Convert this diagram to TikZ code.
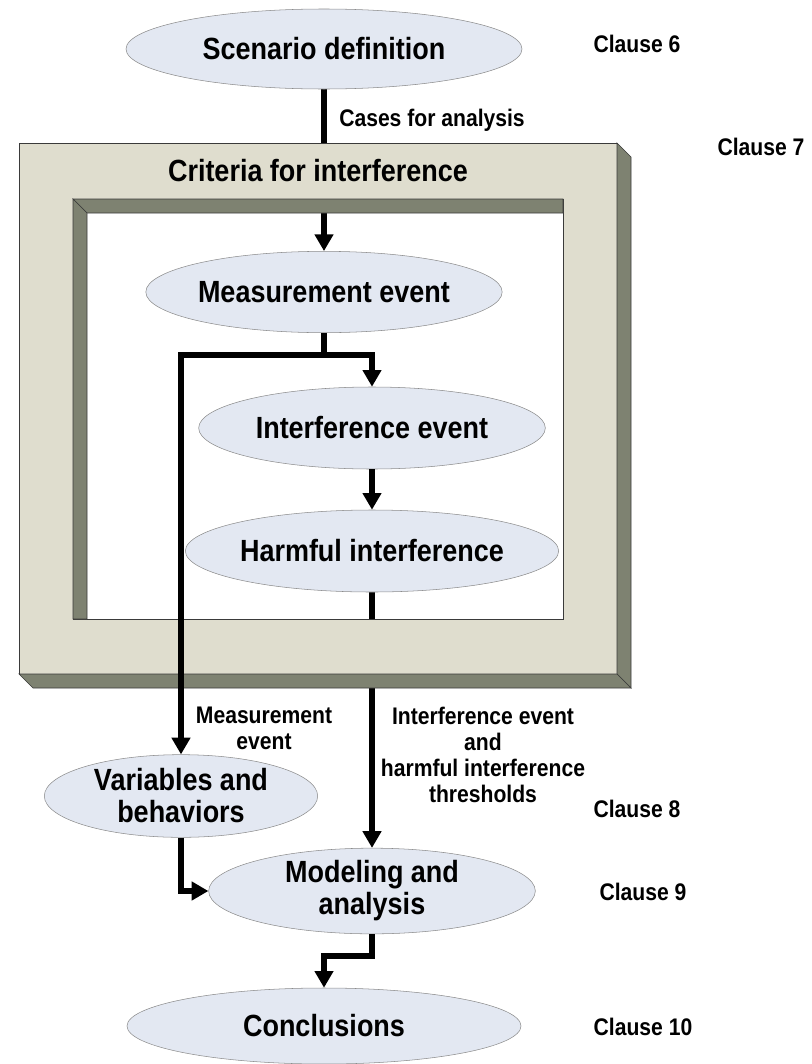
\documentclass[tikz,border=0pt]{standalone}
\usepackage{xcolor}
\usepackage{fontspec}
\setmainfont{Liberation Sans}[FakeStretch=0.88]
\usepackage{tikz}
\usetikzlibrary{shapes.geometric, arrows.meta, positioning, calc, backgrounds}
\definecolor{stagefill}{HTML}{E3E8F2}
\definecolor{stageedge}{HTML}{8C8C8C}
\definecolor{frameface}{HTML}{DFDDCE}
\definecolor{frameside}{HTML}{7E8271}
\definecolor{frameedge}{HTML}{3A3A3A}
\tikzstyle{flow} = [line width=4.5pt, -{Triangle[length=12.5pt, width=13.5pt]}]
\tikzstyle{stage} = [ellipse, draw=stageedge, fill=stagefill, inner sep=0pt, align=center, font=\fontsize{23}{24}\selectfont\bfseries]
\tikzstyle{note} = [inner sep=0pt, align=center, font=\fontsize{18}{19.5}\selectfont\bfseries]

\begin{document}
\begin{tikzpicture}[x=0.75pt, y=-0.75pt]
    \useasboundingbox (0,0) rectangle (812,1064);
    % Stages
    \node[stage, minimum width=297pt, minimum height=60pt] (scenario) at (324,49) {Scenario definition};
    \node[stage, minimum width=256.5pt, minimum height=61pt] (measure) at (324,292) {Measurement event};
    \node[stage, minimum width=260pt, minimum height=61.5pt] (interf) at (372,428) {Interference event};
    \node[stage, minimum width=261pt, minimum height=61.5pt] (harmful) at (372,551) {Harmful interference};
    \node[stage, minimum width=205pt, minimum height=62pt] (variables) at (181,796) {Variables and\\behaviors};
    \node[stage, minimum width=245pt, minimum height=59pt] (modeling) at (372,891) {Modeling and\\analysis};
    \node[stage, minimum width=295.5pt, minimum height=57pt] (concl) at (324,1026) {Conclusions};
    
    % Frame title
    \node[stage, draw=none, fill=none] (criteria) at (318,171) {Criteria for interference};
    
    % Clauses
    \node[note] (clause6) at (637,44) {Clause 6};
    \node[note] (clause7) at (761,147) {Clause 7};
    \node[note] (clause8) at (637,809) {Clause 8};
    \node[note] (clause9) at (643,892) {Clause 9};
    \node[note] (clause10) at (643,1027) {Clause 10};
    
    % Labels
    \node[note, anchor=west] (caseslbl) at (339,120) {Cases for analysis};
    \node[note] (measlbl) at (264,728) {Measurement\\event};
    \node[note] (threshlbl) at (483,755) {Interference event\\and\\harmful interference\\thresholds};
    
    % Frame (behind)
    \begin{scope}[on background layer]
        \draw[flow] (scenario) -- (measure);
        \draw[flow] (harmful) -- (modeling);
        \fill[frameface, draw=frameedge, even odd rule] (19,143) rectangle (617,674) (73,199) rectangle (563,619);
        \fill[frameside, draw=frameedge, line width=0.5pt] (617,143) -- (631,157) -- (631,688) -- (617,674) -- cycle;
        \fill[frameside, draw=frameedge, line width=0.5pt] (19,674) -- (617,674) -- (631,688) -- (33,688) -- cycle;
        \fill[frameside, draw=frameedge, line width=0.5pt] (73,199) -- (563,199) -- (563,213) -- (87,213) -- cycle;
        \fill[frameside, draw=frameedge, line width=0.5pt] (73,199) -- (87,213) -- (87,619) -- (73,619) -- cycle;
    \end{scope}
    
    % Arrows
    \coordinate (split) at (324,355);
    \draw[flow] (measure.south) -- (split) -| (variables.north);
    \draw[flow] (split) -| (interf.north);
    \draw[flow] (interf) -- (harmful);
    \draw[flow] (variables.south) |- (modeling.west);
    \draw[flow] (modeling.south) -- ++(0,22) -| (concl.north);
\end{tikzpicture}
\end{document}
